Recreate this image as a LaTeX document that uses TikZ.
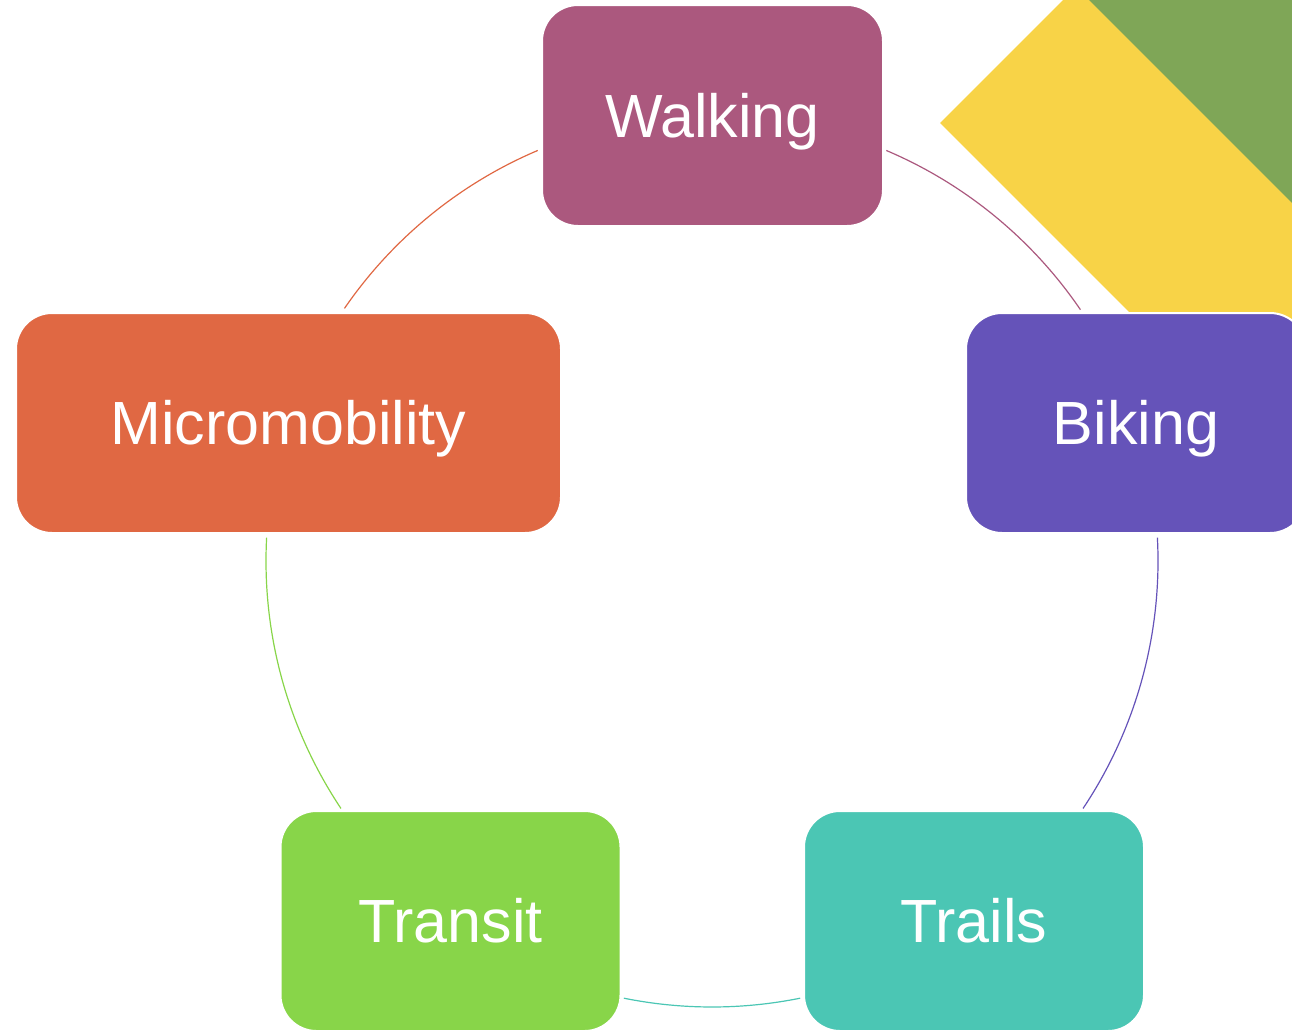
\documentclass[tikz,border=0pt]{standalone}
\usepackage{fontspec}
\setmainfont{Liberation Sans}
\definecolor{cwalk}{HTML}{AB587E}
\definecolor{cmicro}{HTML}{E06843}
\definecolor{cbike}{HTML}{6553B9}
\definecolor{ctransit}{HTML}{88D549}
\definecolor{ctrails}{HTML}{4BC6B4}
\definecolor{cyellow}{HTML}{F8D347}
\definecolor{cgreen}{HTML}{7FA657}
\tikzset{
  box/.style={rectangle, rounded corners=36pt, draw=white, line width=2pt,
    minimum width=340pt, minimum height=220pt, inner sep=0pt, outer sep=0pt,
    text height=45pt, text depth=2pt,
    text=white, font=\fontsize{61}{70}\selectfont},
  link/.style={line width=1.2pt}
}
\begin{document}
\begin{tikzpicture}[x=1pt,y=1pt]
\useasboundingbox (0,0) rectangle (1292,-1029);
\clip (0,0) rectangle (1292,-1029);
% background decoration
\fill[cyellow] (940,-123) -- (1073,10) -- (1300,10) -- (1300,-600) -- (1417,-600) -- cycle;
\fill[cgreen] (1079,10) -- (1300,10) -- (1300,-211) -- cycle;
% circle centre
\coordinate (c) at (712,-561);
% connectors (arcs on the circle)
\draw[link, cwalk] ([shift={(67:446)}]c) arc[start angle=67, end angle=34.3, radius=446];
\draw[link, cbike] ([shift={(3:446)}]c) arc[start angle=3, end angle=-33.7, radius=446];
\draw[link, ctrails] ([shift={(-78.6:446)}]c) arc[start angle=-78.6, end angle=-101.4, radius=446];
\draw[link, ctransit] ([shift={(213.7:446)}]c) arc[start angle=213.7, end angle=177, radius=446];
\draw[link, cmicro] ([shift={(145.5:446)}]c) arc[start angle=145.5, end angle=113, radius=446];
% nodes
\node[box, fill=cwalk, minimum width=341pt, minimum height=221pt] (walking) at (712.5,-115.5) {Walking};
\node[box, fill=cbike] (biking) at (1136,-423) {Biking};
\node[box, fill=cmicro, minimum width=545pt] (micro) at (288.5,-423) {Micromobility};
\node[box, fill=ctransit] (transit) at (450.5,-921) {Transit};
\node[box, fill=ctrails] (trails) at (974,-921) {Trails};
\end{tikzpicture}
\end{document}
